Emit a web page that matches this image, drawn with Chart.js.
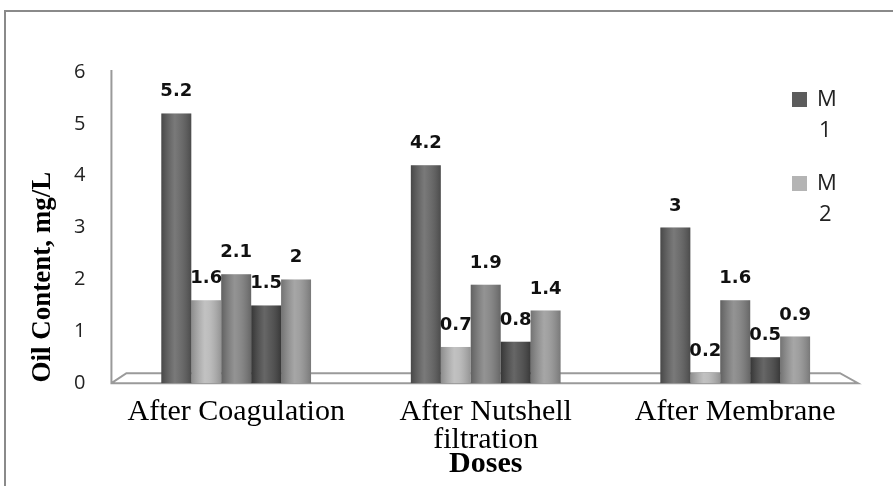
<!DOCTYPE html>
<html>
<head>
<meta charset="utf-8">
<script src="https://cdn.jsdelivr.net/npm/chart.js@4.4.1/dist/chart.umd.min.js"></script>
<style>
  html, body { margin: 0; padding: 0; background: #fff; }
  #wrap { width: 893px; height: 486px; position: relative; }
</style>
</head>
<body>
<div id="wrap"><canvas id="grafico"></canvas></div>
<script>
// dados
const categorias = [["After Coagulation"], ["After Nutshell", "filtration"], ["After Membrane"]];
const serieM1 = [5.2, 4.2, 3];
const serieM2 = [1.6, 0.7, 0.2];
const serieM3 = [2.1, 1.9, 1.6];
const serieM4 = [1.5, 0.8, 0.5];
const serieM5 = [2, 1.4, 0.9];
const nomesSeries = ["M 1", "M 2", "M 3", "M 4", "M 5"];
const ticksY = [0, 1, 2, 3, 4, 5, 6];
const tituloY = "Oil Content, mg/L";
const tituloX = "Doses";

// quantas series aparecem na legenda (o resto ficou cortado no original)
const legendaVisivel = 2;

const cores = ["#5c5c5c", "#b4b4b4", "#7c7c7c", "#454545", "#939393"];
const series = [serieM1, serieM2, serieM3, serieM4, serieM5];

// moldura + piso 3d + eixo y
const molduraPlugin = {
  id: "moldura",
  beforeDraw(chart) {
    const ctx = chart.ctx;
    const a = chart.chartArea;
    ctx.save();
    ctx.strokeStyle = "#8a8a8a";
    ctx.lineWidth = 2;
    ctx.beginPath();
    ctx.moveTo(5, chart.height);
    ctx.lineTo(5, 11);
    ctx.lineTo(chart.width, 11);
    ctx.stroke();

    ctx.strokeStyle = "#9a9a9a";
    ctx.lineWidth = 2;
    ctx.beginPath();
    ctx.moveTo(a.left, a.top - 2);
    ctx.lineTo(a.left, a.bottom);
    ctx.lineTo(a.right - 2, a.bottom);
    ctx.lineTo(a.right - 20, a.bottom - 10);
    ctx.lineTo(a.left + 15, a.bottom - 10);
    ctx.lineTo(a.left, a.bottom);
    ctx.stroke();
    ctx.restore();
  }
};

// sombreado cilindrico + rotulos de valor
const barrasPlugin = {
  id: "barras",
  afterDatasetsDraw(chart) {
    const ctx = chart.ctx;
    ctx.save();
    chart.data.datasets.forEach((ds, i) => {
      const meta = chart.getDatasetMeta(i);
      meta.data.forEach((el, j) => {
        const w = el.width;
        const x0 = el.x - w / 2;
        const g = ctx.createLinearGradient(x0, 0, x0 + w, 0);
        g.addColorStop(0, "rgba(0,0,0,0.22)");
        g.addColorStop(0.45, "rgba(255,255,255,0.18)");
        g.addColorStop(0.6, "rgba(255,255,255,0.12)");
        g.addColorStop(1, "rgba(0,0,0,0.18)");
        ctx.fillStyle = g;
        ctx.fillRect(x0, el.y, w, el.base - el.y);

        ctx.fillStyle = "#111";
        ctx.font = "bold 18px 'DejaVu Sans'";
        ctx.textAlign = "center";
        ctx.textBaseline = "alphabetic";
        ctx.fillText(String(ds.data[j]), el.x, el.y - 17);
      });
    });
    ctx.restore();
  }
};

// legenda desenhada a mao: "M" e o numero em duas linhas
const legendaPlugin = {
  id: "legendaMan",
  afterDraw(chart) {
    const ctx = chart.ctx;
    const a = chart.chartArea;
    ctx.save();
    for (let i = 0; i < legendaVisivel; i++) {
      const ds = chart.data.datasets[i];
      const partes = ds.label.split(" ");
      const y = a.top + 28 + i * 84;
      const x = a.right - 68;
      ctx.fillStyle = cores[i];
      ctx.fillRect(x, y - 8, 15, 15);
      ctx.fillStyle = "#222";
      ctx.font = "22px 'Open Sans'";
      ctx.textAlign = "left";
      ctx.textBaseline = "middle";
      ctx.fillText(partes[0], x + 25, y);
      ctx.fillText(partes[1], x + 27, y + 31);
    }
    ctx.restore();
  }
};

// titulo do eixo y (fica mais baixo que o centro no original)
const tituloYPlugin = {
  id: "tituloY",
  afterDraw(chart) {
    const ctx = chart.ctx;
    const a = chart.chartArea;
    ctx.save();
    ctx.translate(43, a.bottom - 106);
    ctx.rotate(-Math.PI / 2);
    ctx.fillStyle = "#000";
    ctx.font = "bold 27px 'Liberation Serif'";
    ctx.textAlign = "center";
    ctx.textBaseline = "middle";
    ctx.fillText(tituloY, 0, 0);
    ctx.restore();
  }
};

const ctxEl = document.getElementById("grafico");

new Chart(ctxEl, {
  type: "bar",
  data: {
    labels: categorias,
    datasets: series.map((s, i) => ({
      label: nomesSeries[i],
      data: s,
      backgroundColor: cores[i],
      borderWidth: 0,
      categoryPercentage: 0.6,
      barPercentage: 1.0
    }))
  },
  options: {
    responsive: true,
    maintainAspectRatio: false,
    animation: false,
    layout: {
      padding: { left: 48, right: 33, top: 72, bottom: 7 }
    },
    plugins: {
      legend: { display: false },
      tooltip: { enabled: false }
    },
    scales: {
      x: {
        grid: { display: false, drawTicks: false },
        border: { display: false },
        ticks: {
          color: "#000",
          font: { family: "'Liberation Serif'", size: 30, lineHeight: 0.93 },
          padding: 15,
          maxRotation: 0,
          autoSkip: false
        },
        title: {
          display: true,
          text: tituloX,
          color: "#000",
          font: { family: "'Liberation Serif'", size: 30, weight: "bold", lineHeight: 1.0 },
          padding: { top: -20, bottom: 0 }
        }
      },
      y: {
        min: ticksY[0],
        max: ticksY[ticksY.length - 1],
        afterBuildTicks(scale) {
          scale.ticks = ticksY.map(v => ({ value: v }));
        },
        grid: { display: false, drawTicks: false },
        border: { display: false },
        ticks: {
          color: "#222",
          font: { family: "'Open Sans'", size: 20 },
          padding: 26
        }
      }
    }
  },
  plugins: [molduraPlugin, barrasPlugin, legendaPlugin, tituloYPlugin]
});
</script>
</body>
</html>
